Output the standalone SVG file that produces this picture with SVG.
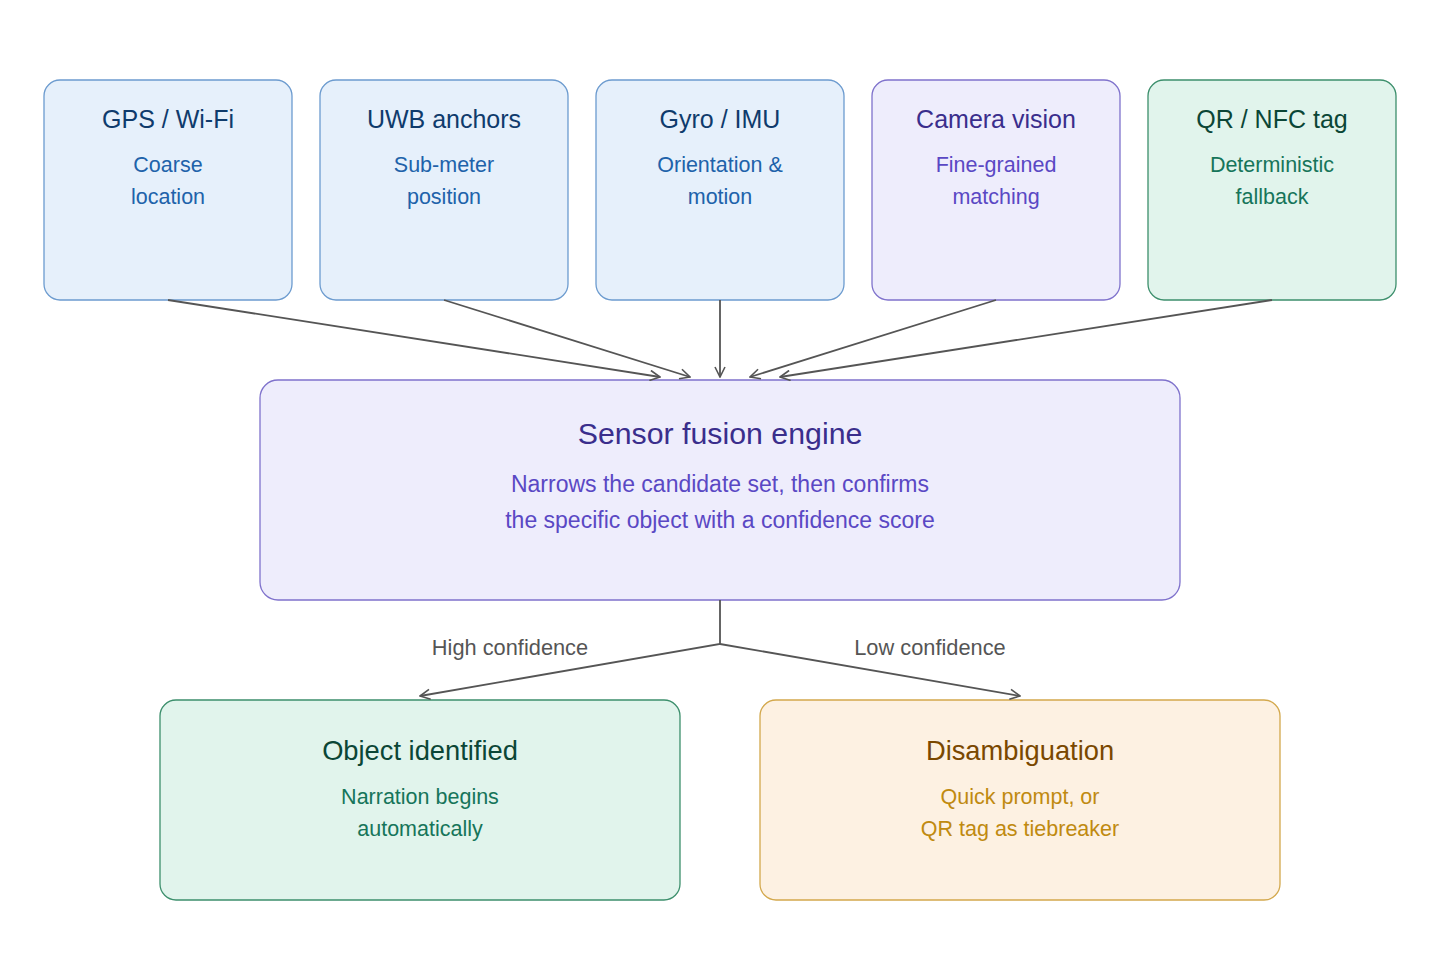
<svg xmlns="http://www.w3.org/2000/svg" width="1440" height="960" viewBox="0 0 1440 960">
<style>
text{font-family:"Liberation Sans",Arial,sans-serif;text-anchor:middle}
.t{font-size:25px}
.s{font-size:21.5px}
.blue rect{fill:#e6f0fb;stroke:#6c9bcf;stroke-width:1.3}
.blue .t{fill:#0f3b6c}.blue .s{fill:#2062aa}
.purple rect{fill:#eeedfc;stroke:#7f72cc;stroke-width:1.3}
.purple .t{fill:#3a2e8c}.purple .s{fill:#5a48c4}
.green rect{fill:#e1f4ec;stroke:#3c8f6c;stroke-width:1.3}
.green .t{fill:#0b4636}.green .s{fill:#16755a}
.orange rect{fill:#fdf1e2;stroke:#d3a84c;stroke-width:1.3}
.orange .t{fill:#7a4800}.orange .s{fill:#c08a10}
.c{fill:none;stroke:#555;stroke-width:1.8}
.lbl{font-size:21.8px;fill:#555}
</style>
<defs>
<marker id="a" viewBox="0 0 12 12" refX="11" refY="6" markerWidth="12" markerHeight="12" markerUnits="userSpaceOnUse" orient="auto">
<path d="M1,1 L11,6 L1,11" fill="none" stroke="#555" stroke-width="1.6"/>
</marker>
</defs>
<g id="gps" class="blue"><rect x="44" y="80" width="248" height="220" rx="16"/><text class="t" x="168" y="128">GPS / Wi-Fi</text><text class="s" x="168" y="172">Coarse</text><text class="s" x="168" y="204">location</text></g>
<g id="uwb" class="blue"><rect x="320" y="80" width="248" height="220" rx="16"/><text class="t" x="444" y="128">UWB anchors</text><text class="s" x="444" y="172">Sub-meter</text><text class="s" x="444" y="204">position</text></g>
<g id="gyro" class="blue"><rect x="596" y="80" width="248" height="220" rx="16"/><text class="t" x="720" y="128">Gyro / IMU</text><text class="s" x="720" y="172">Orientation &amp;</text><text class="s" x="720" y="204">motion</text></g>
<g id="camera" class="purple"><rect x="872" y="80" width="248" height="220" rx="16"/><text class="t" x="996" y="128">Camera vision</text><text class="s" x="996" y="172">Fine-grained</text><text class="s" x="996" y="204">matching</text></g>
<g id="qr" class="green"><rect x="1148" y="80" width="248" height="220" rx="16"/><text class="t" x="1272" y="128">QR / NFC tag</text><text class="s" x="1272" y="172">Deterministic</text><text class="s" x="1272" y="204">fallback</text></g>
<g id="fusion" class="purple"><rect x="260" y="380" width="920" height="220" rx="18"/><text class="t" x="720" y="444" style="font-size:30.3px">Sensor fusion engine</text><text class="s" x="720" y="492" style="font-size:23px">Narrows the candidate set, then confirms</text><text class="s" x="720" y="528" style="font-size:23px">the specific object with a confidence score</text></g>
<g id="identified" class="green"><rect x="160" y="700" width="520" height="200" rx="16"/><text class="t" x="420" y="760" style="font-size:27.3px">Object identified</text><text class="s" x="420" y="804">Narration begins</text><text class="s" x="420" y="836">automatically</text></g>
<g id="disambiguation" class="orange"><rect x="760" y="700" width="520" height="200" rx="16"/><text class="t" x="1020" y="760" style="font-size:27.3px">Disambiguation</text><text class="s" x="1020" y="804">Quick prompt, or</text><text class="s" x="1020" y="836">QR tag as tiebreaker</text></g>
<g id="connectors">
<path class="c" d="M168,300 L660,377" marker-end="url(#a)"/>
<path class="c" d="M444,300 L690,377" marker-end="url(#a)"/>
<path class="c" d="M720,300 L720,377" marker-end="url(#a)"/>
<path class="c" d="M996,300 L750,377" marker-end="url(#a)"/>
<path class="c" d="M1272,300 L780,377" marker-end="url(#a)"/>
<path class="c" d="M720,600 L720,644 L420,696" marker-end="url(#a)"/>
<path class="c" d="M720,644 L1020,696" marker-end="url(#a)"/>
<text class="lbl" x="510" y="655">High confidence</text>
<text class="lbl" x="930" y="655">Low confidence</text>
</g>
</svg>
